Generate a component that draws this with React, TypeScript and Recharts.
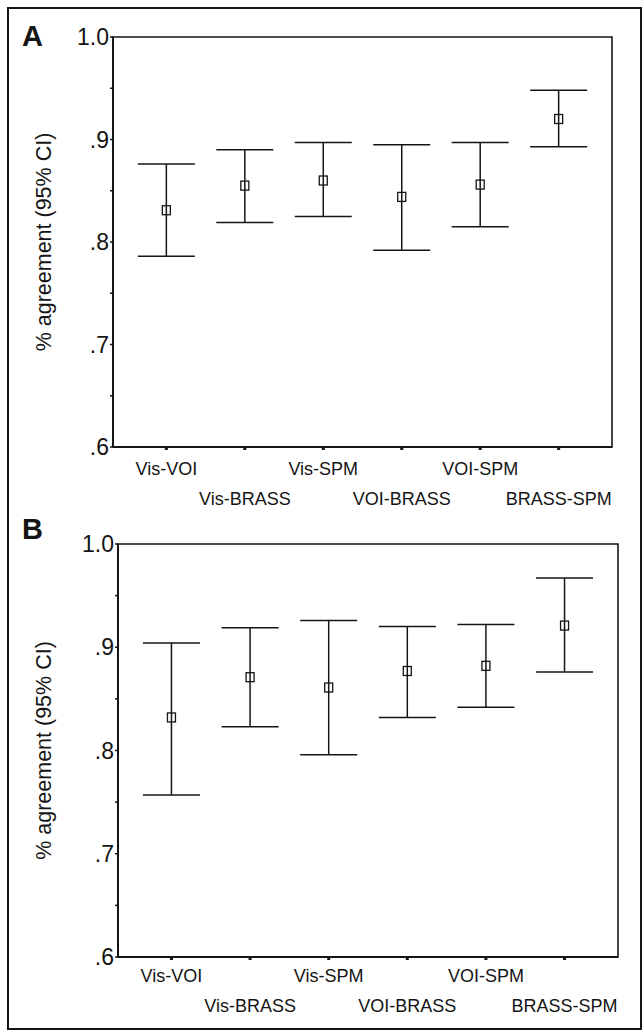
import React from 'react';
import { ScatterChart, Scatter, XAxis, YAxis, ErrorBar, ReferenceArea, Label } from 'recharts';

const categories = ['Vis-VOI', 'Vis-BRASS', 'Vis-SPM', 'VOI-BRASS', 'VOI-SPM', 'BRASS-SPM'];
const meanA = [0.831, 0.855, 0.86, 0.844, 0.856, 0.92];
const lowA = [0.786, 0.819, 0.825, 0.792, 0.815, 0.893];
const highA = [0.876, 0.89, 0.897, 0.895, 0.897, 0.948];
const meanB = [0.832, 0.871, 0.861, 0.877, 0.882, 0.921];
const lowB = [0.757, 0.823, 0.796, 0.832, 0.842, 0.876];
const highB = [0.904, 0.919, 0.926, 0.92, 0.922, 0.967];
const yTicks = [0.6, 0.65, 0.7, 0.75, 0.8, 0.85, 0.9, 0.95, 1.0];
const yMajor = [0.6, 0.7, 0.8, 0.9, 1.0];
const yLabels = ['.6', '.7', '.8', '.9', '1.0'];
const xTicks = [0, 1, 2, 3, 4, 5];
const xDomain = [-0.68, 5.68];
const yDomain = [0.6, 1.0];
const yTitle = '% agreement (95% CI)';

const FONT = '"Liberation Sans", Arial, Helvetica, sans-serif';
const INK = '#151515';

const build = (mean: number[], low: number[], high: number[]) =>
  categories.map((c, i) => ({ idx: i, name: c, mean: mean[i], err: [mean[i] - low[i], high[i] - mean[i]] }));

const dataA = build(meanA, lowA, highA);
const dataB = build(meanB, lowB, highB);

const YTick = (props: any) => {
  const { x, y, payload } = props;
  const k = yMajor.findIndex((v) => Math.abs(v - payload.value) < 1e-6);
  if (k < 0) return <g />;
  return (
    <text x={x} y={y} dy={8} textAnchor="end" fontSize={23} fontFamily={FONT} fill={INK}>
      {yLabels[k]}
    </text>
  );
};

const makeXTick = (row1: number, row2: number) => (props: any) => {
  const { x, y, payload } = props;
  const i = payload.value as number;
  const off = i % 2 === 0 ? row1 : row2;
  return (
    <text x={x} y={y + off} textAnchor="middle" fontSize={18} fontFamily={FONT} fill={INK}>
      {categories[i]}
    </text>
  );
};

const TitleContent = (props: any) => {
  const vb = props.viewBox || {};
  const cx = 51;
  const cy = (vb.y || 0) + (vb.height || 0) / 2;
  return (
    <text transform={`translate(${cx},${cy}) rotate(-90)`} textAnchor="middle" fontSize={21.5} fontFamily={FONT} fill={INK}>
      {yTitle}
    </text>
  );
};

const Square = (props: any) => {
  const { cx, cy } = props;
  return <rect x={cx - 4} y={cy - 4.5} width={8} height={9} fill="none" stroke={INK} strokeWidth={1.3} />;
};

type PanelProps = {
  data: any[];
  top: number;
  right: number;
  yWidth: number;
  xHeight: number;
  row1: number;
  row2: number;
};

const Panel = ({ data, top, right, yWidth, xHeight, row1, row2 }: PanelProps) => (
  <ScatterChart width={644} height={516} margin={{ top, right, bottom: 0, left: 0 }}>
    <XAxis
      type="number"
      dataKey="idx"
      domain={xDomain}
      ticks={xTicks}
      interval={0}
      allowDataOverflow
      height={xHeight}
      axisLine={{ stroke: INK, strokeWidth: 2 }}
      tickLine={{ stroke: INK, strokeWidth: 3 }}
      tickSize={3}
      tickMargin={0}
      tick={makeXTick(row1, row2)}
    />
    <YAxis
      type="number"
      dataKey="mean"
      domain={yDomain}
      ticks={yTicks}
      interval={0}
      allowDataOverflow
      width={yWidth}
      axisLine={{ stroke: INK, strokeWidth: 2 }}
      tickLine={{ stroke: INK, strokeWidth: 1.5 }}
      tickSize={3}
      tickMargin={1}
      tick={<YTick />}
    >
      <Label content={<TitleContent />} />
    </YAxis>
    <ReferenceArea x1={xDomain[0]} x2={xDomain[1]} y1={yDomain[0]} y2={yDomain[1]} fill="none" stroke={INK} strokeWidth={1.6} />
    <Scatter data={data} shape={<Square />} isAnimationActive={false}>
      <ErrorBar dataKey="err" direction="y" width={28.5} stroke={INK} strokeWidth={1.5} isAnimationActive={false} />
    </Scatter>
  </ScatterChart>
);

export default function App() {
  return (
    <div style={{ position: 'absolute', left: 0, top: 0, width: 644, height: 1032, background: '#fff', overflow: 'hidden' }}>
      <div style={{ position: 'absolute', left: 0, top: 0 }}>
        <Panel data={dataA} top={37} right={32} yWidth={113} xHeight={69} row1={25} row2={55} />
      </div>
      <div style={{ position: 'absolute', left: 0, top: 516 }}>
        <Panel data={dataB} top={28} right={26} yWidth={118} xHeight={75} row1={22} row2={52} />
      </div>
      <svg width={644} height={1032} style={{ position: 'absolute', left: 0, top: 0, pointerEvents: 'none' }}>
        <rect x={8} y={8} width={633} height={1021} fill="none" stroke={INK} strokeWidth={2} />
        <text x={22} y={46} fontSize={29} fontWeight="bold" fontFamily={FONT} fill={INK}>A</text>
        <text x={22} y={539} fontSize={29} fontWeight="bold" fontFamily={FONT} fill={INK}>B</text>
      </svg>
    </div>
  );
}
